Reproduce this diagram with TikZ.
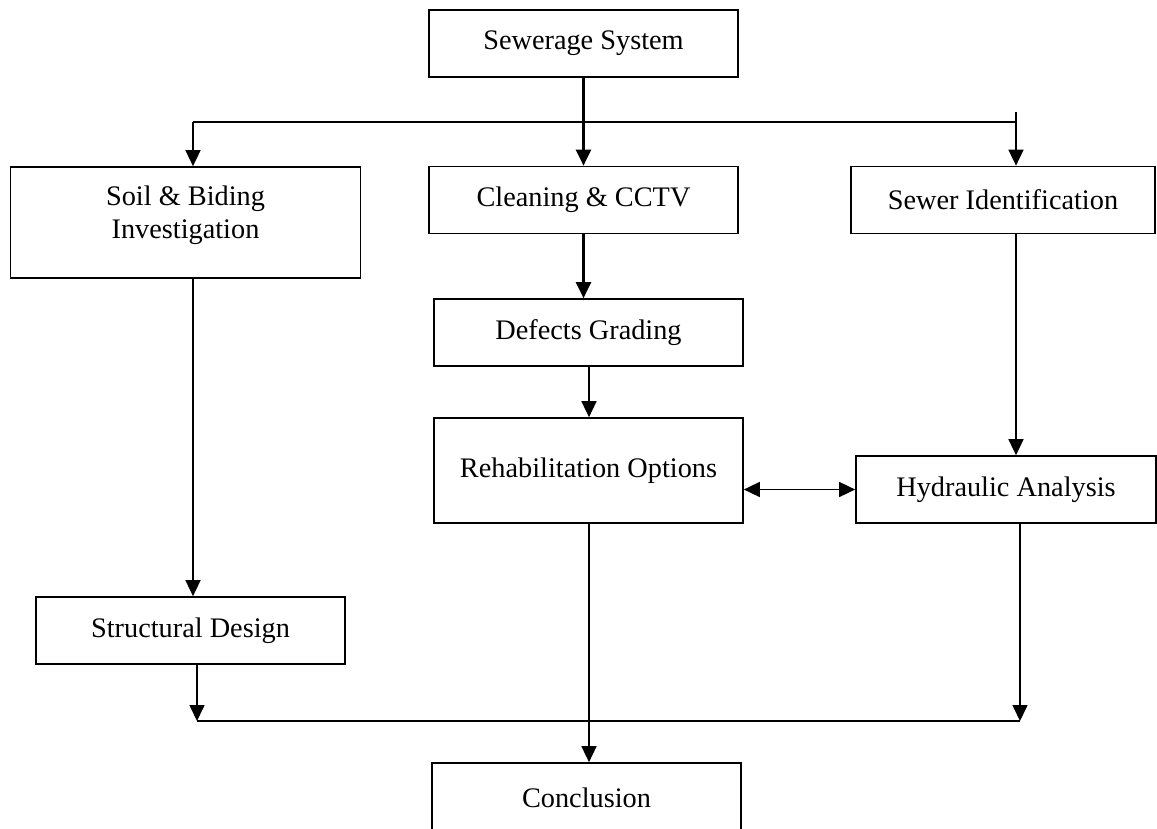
\documentclass[tikz,border=0pt]{standalone}
\usepackage{fontspec}
\setmainfont{Liberation Serif}
\usepackage{tikz}
\usetikzlibrary{positioning, arrows.meta, calc}

\tikzset{
  box/.style={draw, line width=1.7pt, minimum width=309pt, minimum height=67pt,
    inner sep=0pt, align=center, font=\fontsize{28.3}{33}\selectfont},
  tip/.tip={Triangle[length=16pt, width=15pt]},
  link/.style={line width=1.6pt, -tip},
  boldlink/.style={link, line width=2.4pt}
}

\begin{document}
\begin{tikzpicture}[x=1pt, y=-1pt]
  \clip (0, 0) rectangle (1157, 828);
  % Boxes
  \node[box] (sewerage) at (583.5, 43.5) {Sewerage System};
  \node[box] (cleaning) at (583.5, 200) {Cleaning \& CCTV};
  \node[box, minimum width=350pt, minimum height=111pt] (soil) at (185.5, 222.5)
    {Soil \& Biding\\Investigation\rule[-20pt]{0pt}{0pt}};
  \node[box, minimum width=304pt] (sewer) at (1003, 200) {Sewer Identification};
  \node[box] (defects) at (588.5, 332.5) {Defects Grading};
  \node[box, minimum height=105pt] (rehab) at (588.5, 470.5) {Rehabilitation Options};
  \node[box, minimum width=300pt] (hydraulic) at (1006, 489.5) {Hydraulic Analysis};
  \node[box] (structural) at (190.5, 630.5) {Structural Design};
  \node[box, minimum height=70pt] (conclusion) at (586.5, 798) {Conclusion};
  % Branch points
  \coordinate (lt) at (193, 122);
  \coordinate (rt) at (1016, 122);
  \coordinate (rtop) at (1016, 112);
  \coordinate (lb) at (197, 721);
  \coordinate (rb) at (1020, 721);
  \coordinate (mid) at (589, 0);
  % Top split
  \draw[boldlink] (sewerage.south) -- (cleaning.north);
  \draw[line width=1.6pt] (lt) -- (rt);
  \draw[link] (lt) -- (lt |- soil.north);
  \draw[link] (rtop) -- (rtop |- sewer.north);
  % Middle column
  \draw[boldlink] (cleaning.south) -- (cleaning.south |- defects.north);
  \draw[link] (mid |- defects.south) -- (mid |- rehab.north);
  \draw[link, tip-tip] (hydraulic.west -| rehab.east) -- (hydraulic.west);
  % Side columns
  \draw[link] (rt |- sewer.south) -- (rt |- hydraulic.north);
  \draw[link] (lt |- soil.south) -- (lt |- structural.north);
  % Bottom merge
  \draw[link] (lb |- structural.south) -- (lb);
  \draw[link] (rb |- hydraulic.south) -- (rb);
  \draw[line width=1.6pt] (lb) -- (rb);
  \draw[link] (mid |- rehab.south) -- (mid |- conclusion.north);
\end{tikzpicture}
\end{document}
